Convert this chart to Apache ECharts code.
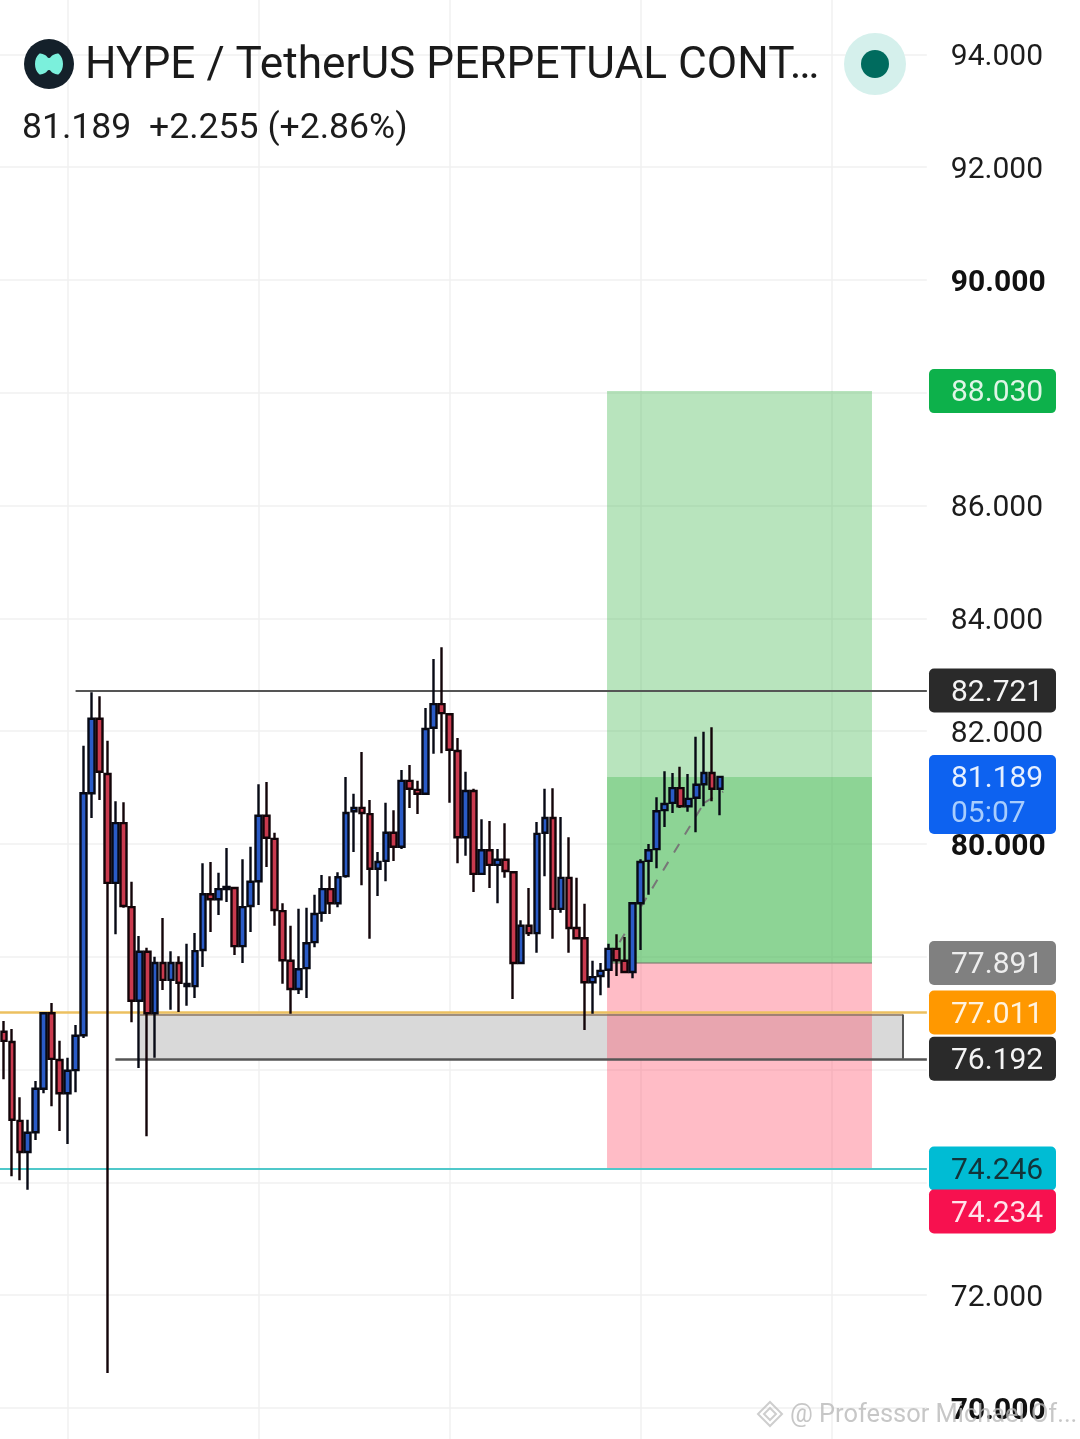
<!DOCTYPE html>
<html>
<head>
<meta charset="utf-8">
<style>html,body{margin:0;padding:0;background:#fff}#c{width:1080px;height:1439px}</style>
<script src="https://cdn.jsdelivr.net/npm/echarts@6/dist/echarts.min.js"></script>
</head>
<body>
<div id="c"></div>
<script>
const opens = [
76.67,76.49,75.09,74.54,74.89,75.66,77.00,76.17,75.58,75.99,
76.61,80.90,82.22,81.24,79.31,80.37,78.88,77.22,78.09,77.00,
77.89,77.59,77.89,77.48,77.48,78.12,79.11,79.02,79.20,79.22,
78.19,78.90,79.34,80.50,80.09,78.81,77.93,77.43,77.80,78.26,
78.78,79.20,78.95,79.43,80.58,80.64,80.53,79.56,79.70,80.20,
79.95,81.12,80.96,80.89,82.06,82.48,82.30,81.65,80.12,80.94,
79.47,79.89,79.63,79.72,79.50,77.89,78.55,78.42,80.20,80.46,
78.85,79.40,78.51,78.33,77.55,77.66,77.77,78.14,77.93,77.73,
78.95,79.70,79.91,80.60,80.73,80.99,80.67,80.82,81.06,81.26,
80.98];
const closes = [
76.51,75.11,74.54,74.88,75.66,77.00,76.19,75.58,75.98,76.60,
80.90,82.22,81.28,79.31,80.37,78.90,77.22,78.09,77.00,77.89,
77.59,77.89,77.54,77.52,78.10,79.11,79.02,79.20,79.24,78.19,
78.88,79.33,80.50,80.11,78.83,77.94,77.43,77.78,78.24,78.76,
79.20,78.95,79.41,80.55,80.64,80.55,79.56,79.68,80.20,79.95,
81.12,80.98,80.89,82.04,82.48,82.32,81.67,80.12,80.94,79.47,
79.89,79.63,79.72,79.52,77.89,78.55,78.42,80.18,80.46,78.85,
79.40,78.51,78.33,77.55,77.64,77.75,78.14,77.94,77.73,78.95,
79.68,79.89,80.58,80.71,80.99,80.67,80.80,81.05,81.26,80.98,
81.19];
const lows = [
75.83,74.11,74.04,73.87,74.75,75.58,75.35,74.91,74.68,75.60,
76.56,80.46,80.78,70.62,78.40,78.87,76.84,76.03,74.82,76.21,
77.41,77.06,77.02,77.13,77.27,77.82,78.44,78.74,78.97,78.03,
77.89,78.44,78.92,79.59,78.55,77.52,76.99,77.34,77.27,78.17,
78.62,78.76,78.88,79.40,79.86,79.27,78.32,79.08,79.34,79.70,
79.91,80.64,80.53,80.87,81.60,81.61,80.73,79.66,79.79,79.15,
79.45,79.22,78.95,79.40,77.25,77.87,78.37,78.07,79.43,78.32,
78.78,78.07,78.32,76.70,76.99,77.32,77.45,77.66,77.71,77.62,
78.12,79.10,79.57,80.30,80.55,80.64,80.57,80.21,80.67,80.76,
80.51];
const highs = [
76.86,76.72,75.51,75.11,75.80,77.02,77.18,76.51,76.21,76.79,
81.74,82.69,82.62,81.83,80.76,80.74,79.33,78.37,78.16,78.00,
78.69,78.10,78.01,78.23,78.42,79.66,79.68,79.49,79.93,79.24,
79.73,79.95,81.06,81.10,80.20,78.95,78.55,78.85,78.87,79.10,
79.45,79.43,79.50,81.19,80.89,81.63,80.78,79.86,80.73,80.60,
81.31,81.40,81.12,82.41,83.28,83.49,82.32,81.88,81.28,80.98,
80.44,80.41,79.91,80.37,79.52,78.65,79.22,80.39,80.98,80.99,
80.48,80.12,79.40,78.94,77.93,77.89,78.23,78.40,78.35,78.97,
79.73,80.00,80.83,81.29,81.26,81.37,81.24,81.90,81.99,82.07,
81.21];

// x positions in bar units (one bar = one candle slot)
const barSlots = 116;
const timeGridBars = [8, 32, 56, 80, 104];
const positionStartBar = 75.8, positionEndBar = 109.1;
const targetPrice = 88.030, entryPrice = 77.891, stopPrice = 74.246, lastPrice = 81.189;
const zoneTop = 77.011, zoneBottom = 76.192, zoneStartBar = 17.1, zoneEndBar = 113;
const zoneEdgeTop = 76.975;
const resistance = 82.721, resistanceStartBar = 9;
const supportLineStartBar = 14;
const lineEndBar = 116;
const pathBars = [76, 88, 90.4];
const pathPrices = [77.94, 80.73, 80.93];

const tagPrices = [88.030, 82.721, 81.189, 77.891, 77.011, 76.192, 74.246, 74.234];
const tagColors = ['#0db14b', '#2a2a2a', '#0d62f0', '#808080', '#ff9800', '#2a2a2a', '#00bcd4', '#f7114f'];
const tagText = ['#dff5e6', '#f4f4f4', '#e6f0ff', '#eeeeee', '#fff3e0', '#f4f4f4', '#12343a', '#ffe3ea'];
const tagSub = ['', '', '05:07', '', '', '', '', ''];

const pxPerUnit = 56.4, yMin = 68, yMax = 96;
const gridTop = 1408 - (yMax - 70) * pxPerUnit;
const gridHeight = (yMax - yMin) * pxPerUnit;
const step = 7.956;

const FONT = 'Roboto';
const candleData = opens.map((o, i) => [o, closes[i], lows[i], highs[i]]);
const cats = opens.map((_, i) => String(i));
for (let i = opens.length; i < barSlots; i++) cats.push(String(i));

const chart = echarts.init(document.getElementById('c'), null, {renderer: 'canvas', width: 1080, height: 1439});

let tagBottom = -Infinity;
function renderTag(params, api) {
  const idx = params.dataIndex;
  if (idx === 0) tagBottom = -Infinity;
  const cy0 = api.coord([0, tagPrices[idx]])[1];
  let cy = cy0;
  const sub = tagSub[idx];
  if (cy - 22 < tagBottom - 2) cy = tagBottom - 1 + 22;
  const h = sub ? 79 : 44;
  tagBottom = cy - 22 + h;
  const children = [{
    type: 'rect',
    shape: {x: 929, y: cy - 22, width: 127, height: h, r: 5},
    style: {fill: tagColors[idx]}
  }, {
    type: 'text',
    style: {x: 951, y: cy + 2.5, text: tagPrices[idx].toFixed(3), fill: tagText[idx], font: '30px ' + FONT, verticalAlign: 'middle'}
  }];
  if (sub) children.push({
    type: 'text',
    style: {x: 951, y: cy + 37.5, text: sub, fill: '#a8cdfd', font: '30px ' + FONT, verticalAlign: 'middle'}
  });
  return {type: 'group', children};
}

const solid = (color, width) => ({color, width, type: 'solid'});

const option = {
  animation: false,
  backgroundColor: '#ffffff',
  grid: [
    {left: 0, width: step * 116.5, top: gridTop, height: gridHeight, outerBoundsMode: 'none', containLabel: false},
    {left: 0, width: step * barSlots, top: gridTop, height: gridHeight, outerBoundsMode: 'none', containLabel: false}
  ],
  xAxis: [
    {type: 'value', gridIndex: 0, min: -0.5, max: lineEndBar, show: false},
    {type: 'category', gridIndex: 1, data: cats, boundaryGap: true, show: false}
  ],
  yAxis: [
    {
      type: 'value', gridIndex: 0, position: 'right', min: yMin, max: yMax, interval: 2,
      axisLine: {show: false}, axisTick: {show: false},
      splitLine: {show: true, lineStyle: {color: '#f1f1f1', width: 1.5}},
      axisLabel: {
        margin: 24, color: '#1c1c1c', fontFamily: FONT, fontSize: 30, padding: [6, 0, 0, 0],
        formatter: v => (v % 10 === 0) ? '{b|' + v.toFixed(3) + '}' : v.toFixed(3),
        rich: {b: {fontFamily: FONT, fontSize: 30, fontWeight: 'bold', color: '#111'}}
      }
    },
    {type: 'value', gridIndex: 1, min: yMin, max: yMax, show: false, splitLine: {show: false}}
  ],
  series: [
    {
      name: 'timeGrid', type: 'line', xAxisIndex: 0, yAxisIndex: 0, data: [], z: 1, silent: true,
      markLine: {
        z: 1, silent: true, symbol: 'none', animation: false, label: {show: false},
        lineStyle: {color: '#f0f0f0', width: 1.5, type: 'solid'},
        data: timeGridBars.map(b => ({xAxis: b}))
      }
    },
    {
      name: 'zone', type: 'line', xAxisIndex: 0, yAxisIndex: 0, data: [], z: 2, silent: true,
      markArea: {
        z: 2, silent: true, animation: false, label: {show: false},
        itemStyle: {color: '#d9d9d9'},
        data: [[{xAxis: zoneStartBar, yAxis: zoneTop}, {xAxis: zoneEndBar, yAxis: zoneBottom}]]
      }
    },
    {
      name: 'position', type: 'line', xAxisIndex: 0, yAxisIndex: 0, data: [], z: 3, silent: true,
      markArea: {
        z: 3, silent: true, animation: false, label: {show: false},
        data: [
          [{xAxis: positionStartBar, yAxis: targetPrice, itemStyle: {color: 'rgba(78,187,90,0.4)'}}, {xAxis: positionEndBar, yAxis: entryPrice}],
          [{xAxis: positionStartBar, yAxis: lastPrice, itemStyle: {color: 'rgba(78,187,90,0.4)'}}, {xAxis: positionEndBar, yAxis: entryPrice}],
          [{xAxis: positionStartBar, yAxis: entryPrice, itemStyle: {color: 'rgba(255,87,112,0.4)'}}, {xAxis: positionEndBar, yAxis: stopPrice}]
        ]
      }
    },
    {
      name: 'levels', type: 'line', xAxisIndex: 0, yAxisIndex: 0, data: [], z: 4, silent: true,
      markLine: {
        z: 4, silent: true, symbol: 'none', animation: false, label: {show: false},
        data: [
          [{xAxis: resistanceStartBar, yAxis: resistance, lineStyle: solid('#555', 2)}, {xAxis: lineEndBar, yAxis: resistance}],
          [{xAxis: -0.5, yAxis: zoneTop, lineStyle: solid('#ecc060', 2.5)}, {xAxis: lineEndBar, yAxis: zoneTop}],
          [{xAxis: zoneStartBar, yAxis: zoneEdgeTop, lineStyle: solid('#8a7560', 1.5)}, {xAxis: zoneEndBar, yAxis: zoneEdgeTop}],
          [{xAxis: supportLineStartBar, yAxis: zoneBottom, lineStyle: solid('#555', 2.5)}, {xAxis: lineEndBar, yAxis: zoneBottom}],
          [{xAxis: zoneEndBar, yAxis: zoneEdgeTop, lineStyle: solid('#555', 2)}, {xAxis: zoneEndBar, yAxis: zoneBottom}],
          [{xAxis: -0.5, yAxis: stopPrice, lineStyle: solid('#4fc8ca', 2)}, {xAxis: lineEndBar, yAxis: stopPrice}],
          [{xAxis: positionStartBar, yAxis: entryPrice, lineStyle: solid('rgba(120,120,110,0.55)', 2)}, {xAxis: positionEndBar, yAxis: entryPrice}],
          [{xAxis: pathBars[0], yAxis: pathPrices[0], lineStyle: {color: '#777', width: 2, type: [10, 11]}}, {xAxis: pathBars[1], yAxis: pathPrices[1]}],
          [{xAxis: pathBars[1], yAxis: pathPrices[1], lineStyle: {color: '#777', width: 2, type: [10, 11]}}, {xAxis: pathBars[2], yAxis: pathPrices[2]}]
        ]
      }
    },
    {
      name: 'HYPE', type: 'candlestick', xAxisIndex: 1, yAxisIndex: 1, z: 6, silent: true,
      barWidth: 6.2, clip: false,
      itemStyle: {
        color: '#2a5bc6', color0: '#c93a4e',
        borderColor: '#070914', borderColor0: '#120408', borderWidth: 2.4
      },
      data: candleData
    },
    {
      name: 'tags', type: 'custom', xAxisIndex: 0, yAxisIndex: 0, z: 10, silent: true, clip: false,
      data: tagPrices.map((p, i) => [i, p]),
      renderItem: renderTag
    }
  ],
  graphic: [
    {type: 'circle', shape: {cx: 49, cy: 64, r: 25}, style: {fill: '#14202a'}, z: 20},
    {type: 'polygon', z: 21, shape: {smooth: 0.4, points: [[35,64],[39,54],[45,55],[49,58],[53,55],[59,54],[63,64],[59,74],[53,73],[49,70],[45,73],[39,74]]}, style: {fill: '#7bf0dc'}},
    {type: 'text', z: 21, style: {x: 85, y: 66.5, text: 'HYPE / TetherUS PERPETUAL CONT…', fill: '#1a1a1a', font: '44.2px ' + FONT, verticalAlign: 'middle'}},
    {type: 'text', z: 21, style: {x: 22, y: 129, text: '81.189  +2.255 (+2.86%)', fill: '#1c1c1c', font: '35.6px ' + FONT, verticalAlign: 'middle'}},
    {type: 'circle', shape: {cx: 875, cy: 64, r: 31}, style: {fill: '#d5f0ec'}, z: 20},
    {type: 'circle', shape: {cx: 875, cy: 64, r: 14}, style: {fill: '#006b5e'}, z: 21},
    {type: 'polygon', z: 30, shape: {points: [[770,1402],[782,1414],[770,1426],[758,1414]]}, style: {fill: 'none', stroke: 'rgba(190,190,190,0.75)', lineWidth: 2}},
    {type: 'polygon', z: 30, shape: {points: [[770,1408],[776,1414],[770,1420],[764,1414]]}, style: {fill: 'none', stroke: 'rgba(190,190,190,0.75)', lineWidth: 2}},
    {type: 'text', z: 30, style: {x: 790, y: 1416, text: '@ Professor Michael Of...', fill: 'rgba(185,185,185,0.8)', font: '25.4px ' + FONT, verticalAlign: 'middle'}}
  ]
};
chart.setOption(option);
</script>
</body>
</html>
